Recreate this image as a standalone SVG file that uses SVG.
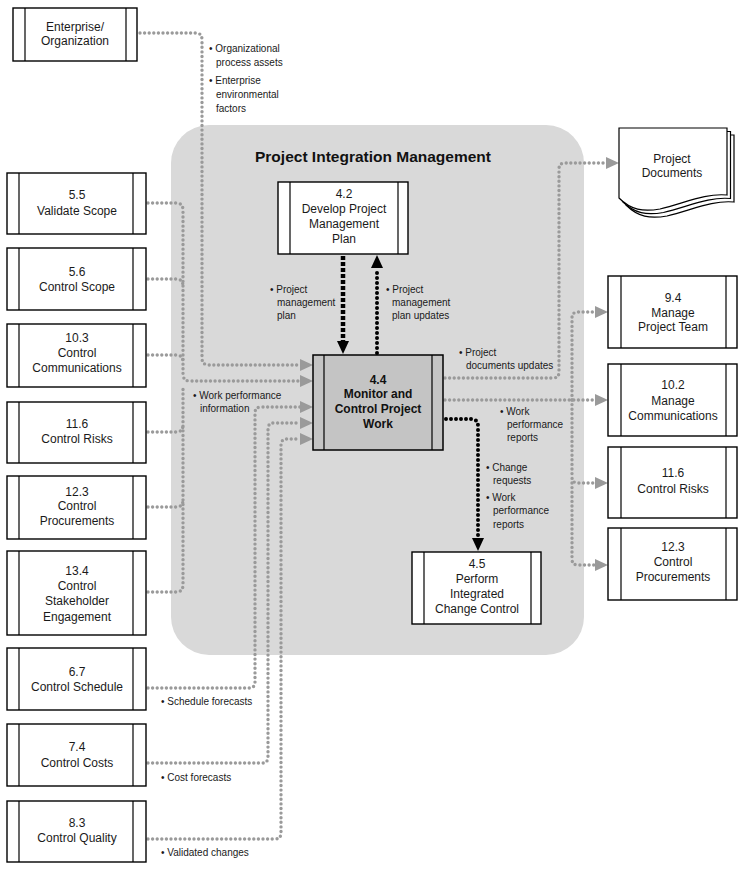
<svg xmlns="http://www.w3.org/2000/svg" width="745" height="869" viewBox="0 0 745 869">
<style>
.box{fill:#fff;stroke:#000;stroke-width:1.4}
.bar{stroke:#000;stroke-width:1.2}
.t{font-family:"Liberation Sans",Arial,sans-serif;font-size:12px;fill:#1a1a1a;text-anchor:middle}
.tb{font-family:"Liberation Sans",Arial,sans-serif;font-size:12px;font-weight:bold;fill:#111;text-anchor:middle}
.lb{font-family:"Liberation Sans",Arial,sans-serif;font-size:10px;fill:#1a1a1a}
.g{fill:none;stroke:#9a9a9a;stroke-width:3.4;stroke-linecap:round;stroke-dasharray:0 4.6}
.k{fill:none;stroke:#000;stroke-width:4;stroke-linecap:round;stroke-dasharray:0 5}
.ks{fill:none;stroke:#000;stroke-width:4.5;stroke-dasharray:4 2}
</style>
<defs>
<marker id="ga" markerUnits="userSpaceOnUse" markerWidth="14" markerHeight="14" viewBox="0 0 14 14" refX="0" refY="7" orient="auto"><path d="M0,1 L13,7 L0,13 Z" fill="#9a9a9a"/></marker>
<marker id="ka" markerUnits="userSpaceOnUse" markerWidth="14" markerHeight="14" viewBox="0 0 14 14" refX="0" refY="7" orient="auto"><path d="M0,1 L13,7 L0,13 Z" fill="#000"/></marker>
</defs>
<rect x="0" y="0" width="745" height="869" fill="#fff"/>

<g id="region">
<rect x="171" y="125" width="413" height="530" rx="38" ry="38" fill="#d9d9d9"/>
<text x="373" y="162" font-family="Liberation Sans,Arial,sans-serif" font-size="15.5" font-weight="bold" fill="#111" text-anchor="middle">Project Integration Management</text>
</g>

<g id="connectors">
<path class="g" d="M140,33 H196 Q202,33 202,40 V358 Q202,365 209,365 H300" marker-end="url(#ga)"/>
<path class="g" d="M148,203 H176 Q183,203 183,210 V374 Q183,381 190,381 H300" marker-end="url(#ga)"/>
<path class="g" d="M148,279 H176 Q183,279 183,286"/>
<path class="g" d="M148,355 H176 Q183,355 183,362"/>
<path class="g" d="M148,432 H176 Q183,432 183,425"/>
<path class="g" d="M148,507 H176 Q183,507 183,500"/>
<path class="g" d="M148,592 H176 Q183,592 183,585 V388"/>
<path class="g" d="M148,688 H249 Q255,688 255,682 V413 Q255,407 261,407 H300" marker-end="url(#ga)"/>
<path class="g" d="M148,763 H262 Q268,763 268,757 V429 Q268,423 274,423 H300" marker-end="url(#ga)"/>
<path class="g" d="M148,839 H275 Q281,839 281,833 V445 Q281,439 287,439 H300" marker-end="url(#ga)"/>
<path class="g" d="M445,378 H553 Q559,378 559,372 V169 Q559,163 565,163 H606" marker-end="url(#ga)"/>
<path class="g" d="M445,400 H595" marker-end="url(#ga)"/>
<path class="g" d="M572,400 V318 Q572,312 578,312 H595" marker-end="url(#ga)"/>
<path class="g" d="M572,400 V477 Q572,483 578,483 H595" marker-end="url(#ga)"/>
<path class="g" d="M572,483 V559 Q572,565 578,565 H595" marker-end="url(#ga)"/>
<path class="ks" d="M343,256 V341" marker-end="url(#ka)"/>
<path class="k" d="M377,353 V268" marker-end="url(#ka)"/>
<path class="k" d="M446,419 H471 Q478,419 478,426 V538" marker-end="url(#ka)"/>
</g>

<g id="labels" class="lb">
<text class="lb"><tspan x="209" y="52">• Organizational</tspan><tspan x="216" y="66">process assets</tspan><tspan x="209" y="84">• Enterprise</tspan><tspan x="216" y="98">environmental</tspan><tspan x="216" y="112">factors</tspan></text>
<text class="lb"><tspan x="270" y="293">• Project</tspan><tspan x="277" y="306">management</tspan><tspan x="277" y="319">plan</tspan></text>
<text class="lb"><tspan x="386" y="293">• Project</tspan><tspan x="392" y="306">management</tspan><tspan x="392" y="319">plan updates</tspan></text>
<text class="lb"><tspan x="459" y="356">• Project</tspan><tspan x="466" y="369">documents updates</tspan></text>
<text class="lb"><tspan x="500" y="415">• Work</tspan><tspan x="507" y="428">performance</tspan><tspan x="507" y="441">reports</tspan></text>
<text class="lb"><tspan x="486" y="471">• Change</tspan><tspan x="493" y="484">requests</tspan><tspan x="486" y="501">• Work</tspan><tspan x="493" y="514">performance</tspan><tspan x="493" y="528">reports</tspan></text>
<text class="lb"><tspan x="193" y="399">• Work performance</tspan><tspan x="200" y="412">information</tspan></text>
<text class="lb" x="161" y="705">• Schedule forecasts</text>
<text class="lb" x="161" y="781">• Cost forecasts</text>
<text class="lb" x="161" y="856">• Validated changes</text>
</g>

<g id="n-enterprise"><rect class="box" x="13" y="8" width="124" height="53"/><line class="bar" x1="25" y1="8" x2="25" y2="61"/><line class="bar" x1="126" y1="8" x2="126" y2="61"/><text class="t" x="75" y="31">Enterprise/</text><text class="t" x="75" y="45">Organization</text></g>

<g id="n-5-5"><rect class="box" x="7" y="173" width="139" height="61"/><line class="bar" x1="19" y1="173" x2="19" y2="234"/><line class="bar" x1="133" y1="173" x2="133" y2="234"/><text class="t" x="77" y="199">5.5</text><text class="t" x="77" y="215">Validate Scope</text></g>
<g id="n-5-6"><rect class="box" x="7" y="248" width="139" height="62"/><line class="bar" x1="19" y1="248" x2="19" y2="310"/><line class="bar" x1="133" y1="248" x2="133" y2="310"/><text class="t" x="77" y="276">5.6</text><text class="t" x="77" y="291">Control Scope</text></g>
<g id="n-10-3"><rect class="box" x="7" y="324" width="139" height="63"/><line class="bar" x1="19" y1="324" x2="19" y2="387"/><line class="bar" x1="133" y1="324" x2="133" y2="387"/><text class="t" x="77" y="342">10.3</text><text class="t" x="77" y="357">Control</text><text class="t" x="77" y="372">Communications</text></g>
<g id="n-11-6-l"><rect class="box" x="7" y="402" width="139" height="61"/><line class="bar" x1="19" y1="402" x2="19" y2="463"/><line class="bar" x1="133" y1="402" x2="133" y2="463"/><text class="t" x="77" y="428">11.6</text><text class="t" x="77" y="443">Control Risks</text></g>
<g id="n-12-3-l"><rect class="box" x="7" y="476" width="139" height="63"/><line class="bar" x1="19" y1="476" x2="19" y2="539"/><line class="bar" x1="133" y1="476" x2="133" y2="539"/><text class="t" x="77" y="496">12.3</text><text class="t" x="77" y="510">Control</text><text class="t" x="77" y="525">Procurements</text></g>
<g id="n-13-4"><rect class="box" x="7" y="551" width="139" height="84"/><line class="bar" x1="19" y1="551" x2="19" y2="635"/><line class="bar" x1="133" y1="551" x2="133" y2="635"/><text class="t" x="77" y="575">13.4</text><text class="t" x="77" y="590">Control</text><text class="t" x="77" y="605">Stakeholder</text><text class="t" x="77" y="621">Engagement</text></g>
<g id="n-6-7"><rect class="box" x="7" y="648" width="139" height="62"/><line class="bar" x1="19" y1="648" x2="19" y2="710"/><line class="bar" x1="133" y1="648" x2="133" y2="710"/><text class="t" x="77" y="676">6.7</text><text class="t" x="77" y="691">Control Schedule</text></g>
<g id="n-7-4"><rect class="box" x="7" y="724" width="139" height="62"/><line class="bar" x1="19" y1="724" x2="19" y2="786"/><line class="bar" x1="133" y1="724" x2="133" y2="786"/><text class="t" x="77" y="751">7.4</text><text class="t" x="77" y="767">Control Costs</text></g>
<g id="n-8-3"><rect class="box" x="7" y="801" width="139" height="61"/><line class="bar" x1="19" y1="801" x2="19" y2="862"/><line class="bar" x1="133" y1="801" x2="133" y2="862"/><text class="t" x="77" y="827">8.3</text><text class="t" x="77" y="842">Control Quality</text></g>

<g id="n-4-2"><rect class="box" x="278" y="182" width="130" height="72"/><line class="bar" x1="290" y1="182" x2="290" y2="254"/><line class="bar" x1="398" y1="182" x2="398" y2="254"/><text class="t" x="344" y="198">4.2</text><text class="t" x="344" y="213">Develop Project</text><text class="t" x="344" y="228">Management</text><text class="t" x="344" y="243">Plan</text></g>
<g id="n-4-4"><rect x="313" y="355" width="130" height="95" fill="#c4c4c4" stroke="#000" stroke-width="1.5"/><line class="bar" x1="324" y1="355" x2="324" y2="450"/><line class="bar" x1="432" y1="355" x2="432" y2="450"/><text class="tb" x="378" y="384">4.4</text><text class="tb" x="378" y="398">Monitor and</text><text class="tb" x="378" y="413">Control Project</text><text class="tb" x="378" y="428">Work</text></g>
<g id="n-4-5"><rect class="box" x="412" y="552" width="129" height="72"/><line class="bar" x1="424" y1="552" x2="424" y2="624"/><line class="bar" x1="531" y1="552" x2="531" y2="624"/><text class="t" x="477" y="568">4.5</text><text class="t" x="477" y="583">Perform</text><text class="t" x="477" y="598">Integrated</text><text class="t" x="477" y="613">Change Control</text></g>

<g id="n-docs">
<path d="M626,135 H734 V202 C712,200 692,210 667,216 C650,219 638,217 626,205 Z" fill="#fff" stroke="#000" stroke-width="1.2"/>
<path d="M622.5,131.5 H730.5 V198.5 C708.5,196.5 688.5,206.5 663.5,212.5 C646.5,215.5 634.5,213.5 622.5,201.5 Z" fill="#fff" stroke="#000" stroke-width="1.2"/>
<path d="M619,128 H727 V195 C705,193 685,203 660,209 C643,212 631,210 619,198 Z" fill="#fff" stroke="#000" stroke-width="1.2"/>
<text class="t" x="672" y="163">Project</text><text class="t" x="672" y="177">Documents</text>
</g>
<g id="n-9-4"><rect class="box" x="608" y="276" width="129" height="72"/><line class="bar" x1="621" y1="276" x2="621" y2="348"/><line class="bar" x1="726" y1="276" x2="726" y2="348"/><text class="t" x="673" y="302">9.4</text><text class="t" x="673" y="317">Manage</text><text class="t" x="673" y="331">Project Team</text></g>
<g id="n-10-2"><rect class="box" x="608" y="364" width="129" height="72"/><line class="bar" x1="621" y1="364" x2="621" y2="436"/><line class="bar" x1="726" y1="364" x2="726" y2="436"/><text class="t" x="673" y="389">10.2</text><text class="t" x="673" y="405">Manage</text><text class="t" x="673" y="420">Communications</text></g>
<g id="n-11-6-r"><rect class="box" x="608" y="447" width="129" height="71"/><line class="bar" x1="621" y1="447" x2="621" y2="518"/><line class="bar" x1="726" y1="447" x2="726" y2="518"/><text class="t" x="673" y="477">11.6</text><text class="t" x="673" y="493">Control Risks</text></g>
<g id="n-12-3-r"><rect class="box" x="608" y="528" width="129" height="72"/><line class="bar" x1="621" y1="528" x2="621" y2="600"/><line class="bar" x1="726" y1="528" x2="726" y2="600"/><text class="t" x="673" y="551">12.3</text><text class="t" x="673" y="566">Control</text><text class="t" x="673" y="581">Procurements</text></g>
</svg>
